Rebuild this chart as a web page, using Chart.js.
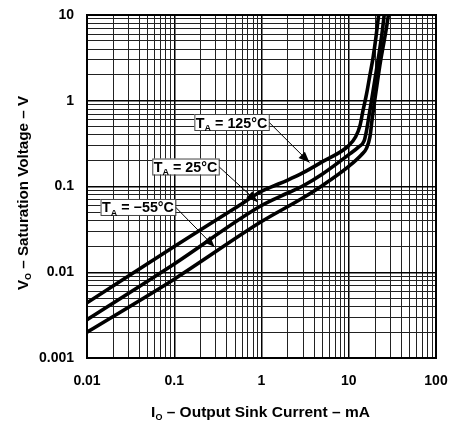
<!DOCTYPE html>
<html>
  <head>
    <meta charset="utf-8">
    <title>Saturation Voltage vs Output Sink Current</title>
  </head>
  <style media="screen">
    html, body { margin: 0; padding: 0; background: #fff; }
    #wrap { width: 449px; height: 423px; }
  </style>
  <body>
    <div id="wrap"><canvas id="grap" width="449" height="423"></canvas></div>
    <script src="https://cdn.jsdelivr.net/npm/chart.js@4/dist/chart.umd.min.js"></script>
    <script type="text/javascript">
      // tick labels (decades)
      let xTickLabels = ['0.01', '0.1', '1', '10', '100'];
      let yTickLabels = ['0.001', '0.01', '0.1', '1', '10'];

      // curves: I (mA) -> V (V)
      let temps = ['125°C', '25°C', '−55°C'];

      let i125 = [0.01, 0.1, 0.5, 1, 1.3, 2, 3, 5, 10, 12, 13.5, 14.5, 16, 17.5, 19, 20.5, 22];
      let v125 = [0.0044, 0.020, 0.056, 0.088, 0.099, 0.119, 0.145, 0.195, 0.30, 0.38, 0.52, 0.75, 1.2, 2.0, 3.2, 5.5, 10];

      let i25 = [0.01, 0.1, 1, 2, 3, 5, 10, 13, 15, 16, 17, 18.5, 20, 22, 24, 25.5];
      let v25 = [0.0028, 0.0125, 0.060, 0.084, 0.102, 0.14, 0.235, 0.29, 0.34, 0.45, 0.65, 1.1, 1.8, 3.3, 6, 10];

      let iM55 = [0.01, 0.1, 1, 3, 5, 10, 14, 16, 17.5, 18.5, 19.5, 21, 23, 25, 27, 28.5];
      let vM55 = [0.002, 0.0083, 0.039, 0.074, 0.103, 0.172, 0.235, 0.28, 0.38, 0.6, 0.9, 1.5, 2.8, 4.5, 7, 10];

      let xDecades = xTickLabels.map(Number);
      let yDecades = yTickLabels.map(Number);

      function pts(xs, ys) {
        return xs.map((x, k) => ({x: x, y: ys[k]}));
      }

      function allTicks(decs) {
        let t = [];
        for (let d = 0; d < decs.length; d++) {
          if (d == decs.length - 1) { t.push({value: decs[d]}); break; }
          for (let m = 1; m < 10; m++) t.push({value: +(decs[d] * m).toPrecision(3)});
        }
        return t;
      }

      function isDecade(v, decs) {
        return decs.some(d => Math.abs(d - v) / d < 1e-6);
      }

      // callouts: box (left edge, centre) and arrow tip, in data units
      let callouts = [
        {box: [0.17, 0.565], tip: [3.55, 0.19]},
        {box: [0.056, 0.171], tip: [0.9, 0.066]},
        {box: [0.0143, 0.0577], tip: [0.29, 0.0197]}
      ];

      const FONT = '"Liberation Sans", Arial, Helvetica, sans-serif';

      function drawSub(ctx, x, y, main, sub, rest, size) {
        // draws main + subscript + rest starting at x, baseline y
        ctx.font = 'bold ' + size + 'px ' + FONT;
        let w1 = ctx.measureText(main).width;
        ctx.fillText(main, x, y);
        ctx.font = 'bold ' + Math.round(size * 0.6) + 'px ' + FONT;
        let w2 = ctx.measureText(sub).width;
        ctx.fillText(sub, x + w1, y + size * 0.22);
        ctx.font = 'bold ' + size + 'px ' + FONT;
        ctx.fillText(rest, x + w1 + w2, y);
      }

      function measureSub(ctx, main, sub, rest, size) {
        ctx.font = 'bold ' + size + 'px ' + FONT;
        let w = ctx.measureText(main).width + ctx.measureText(rest).width;
        ctx.font = 'bold ' + Math.round(size * 0.6) + 'px ' + FONT;
        return w + ctx.measureText(sub).width;
      }

      let extras = {
        id: 'extras',
        afterDatasetsDraw(chart) {
          let ctx = chart.ctx;
          let xs = chart.scales.x, ys = chart.scales.y;
          let a = chart.chartArea;
          ctx.save();

          // frame
          ctx.strokeStyle = '#000';
          ctx.lineWidth = 2;
          ctx.strokeRect(a.left, a.top, a.right - a.left, a.bottom - a.top);

          // callouts
          callouts.forEach((c, k) => {
            let bx = xs.getPixelForValue(c.box[0]);
            let by = ys.getPixelForValue(c.box[1]);
            let tx = xs.getPixelForValue(c.tip[0]);
            let ty = ys.getPixelForValue(c.tip[1]);
            let size = 14.3;
            let w = measureSub(ctx, 'T', 'A', ' = ' + temps[k], size) + 3;
            let h = 16;
            let sx = bx + w, sy = by;

            // arrow
            ctx.strokeStyle = '#000';
            ctx.lineWidth = 1;
            ctx.beginPath();
            ctx.moveTo(sx, sy);
            ctx.lineTo(tx, ty);
            ctx.stroke();
            let ang = Math.atan2(ty - sy, tx - sx);
            let hl = 11, hw = 4.5;
            ctx.fillStyle = '#000';
            ctx.beginPath();
            ctx.moveTo(tx, ty);
            ctx.lineTo(tx - hl * Math.cos(ang) + hw * Math.sin(ang), ty - hl * Math.sin(ang) - hw * Math.cos(ang));
            ctx.lineTo(tx - hl * Math.cos(ang) - hw * Math.sin(ang), ty - hl * Math.sin(ang) + hw * Math.cos(ang));
            ctx.closePath();
            ctx.fill();

            // box
            ctx.fillStyle = '#fff';
            ctx.fillRect(bx, by - h / 2, w, h);
            ctx.strokeStyle = '#444';
            ctx.lineWidth = 1;
            ctx.strokeRect(bx + 0.5, by - h / 2 + 0.5, w, h);
            ctx.fillStyle = '#000';
            ctx.textBaseline = 'alphabetic';
            ctx.textAlign = 'left';
            drawSub(ctx, bx + 1.5, by + 5.5, 'T', 'A', ' = ' + temps[k], size);
          });

          // axis titles
          ctx.fillStyle = '#000';
          ctx.textAlign = 'left';
          ctx.textBaseline = 'alphabetic';
          let ts = 15.5;
          let wx = measureSub(ctx, 'I', 'O', ' – Output Sink Current – mA', ts);
          drawSub(ctx, (a.left + a.right) / 2 - wx / 2 - 1, 417, 'I', 'O', ' – Output Sink Current – mA', ts);

          ts = 15.2;
          ctx.translate(28, 193);
          ctx.rotate(-Math.PI / 2);
          let wy = measureSub(ctx, 'V', 'O', ' – Saturation Voltage – V', ts);
          drawSub(ctx, -wy / 2, 0, 'V', 'O', ' – Saturation Voltage – V', ts);
          ctx.restore();
        }
      };

      let lineStyle = {
        borderColor: '#000',
        backgroundColor: '#000',
        borderWidth: 3.6,
        pointRadius: 0,
        fill: false,
        cubicInterpolationMode: 'monotone',
        borderCapStyle: 'butt'
      };

      let data = {
        datasets: [
          Object.assign({label: 'TA = ' + temps[0], data: pts(i125, v125)}, lineStyle),
          Object.assign({label: 'TA = ' + temps[1], data: pts(i25, v25)}, lineStyle),
          Object.assign({label: 'TA = ' + temps[2], data: pts(iM55, vM55)}, lineStyle)
        ]
      };

      function gridColor(decs) {
        return ctx => isDecade(ctx.tick.value, decs) ? '#000' : '#222';
      }
      function gridWidth(decs) {
        return ctx => isDecade(ctx.tick.value, decs) ? 1.5 : 1;
      }

      var grafico = new Chart(document.querySelector('#grap'), {
        type: 'line',
        data: data,
        plugins: [extras],
        options: {
          responsive: false,
          animation: false,
          clip: true,
          layout: { padding: { top: 15, right: 13, left: 0, bottom: 0 } },
          plugins: {
            legend: { display: false },
            tooltip: { enabled: false },
            title: { display: false }
          },
          scales: {
            x: {
              type: 'logarithmic',
              min: xDecades[0],
              max: xDecades[xDecades.length - 1],
              afterBuildTicks: s => { s.ticks = allTicks(xDecades); },
              afterFit: s => { s.height = 65; s.paddingLeft = 0; s.paddingRight = 0; },
              grid: { color: gridColor(xDecades), lineWidth: gridWidth(xDecades), drawTicks: false },
              border: { display: false },
              ticks: {
                autoSkip: false,
                maxRotation: 0,
                padding: 15,
                color: '#000',
                font: { family: FONT, size: 14, weight: 'bold' },
                callback: (v) => {
                  let k = xDecades.findIndex(d => Math.abs(d - v) / d < 1e-6);
                  return k >= 0 ? xTickLabels[k] : '';
                }
              }
            },
            y: {
              type: 'logarithmic',
              min: yDecades[0],
              max: yDecades[yDecades.length - 1],
              afterBuildTicks: s => { s.ticks = allTicks(yDecades); },
              afterFit: s => { s.width = 87; s.paddingTop = 0; s.paddingBottom = 0; },
              grid: { color: gridColor(yDecades), lineWidth: gridWidth(yDecades), drawTicks: false },
              border: { display: false },
              ticks: {
                autoSkip: false,
                padding: 13,
                color: '#000',
                font: { family: FONT, size: 14, weight: 'bold' },
                callback: (v) => {
                  let k = yDecades.findIndex(d => Math.abs(d - v) / d < 1e-6);
                  return k >= 0 ? yTickLabels[k] : '';
                }
              }
            }
          }
        }
      });
    </script>
  </body>
</html>
